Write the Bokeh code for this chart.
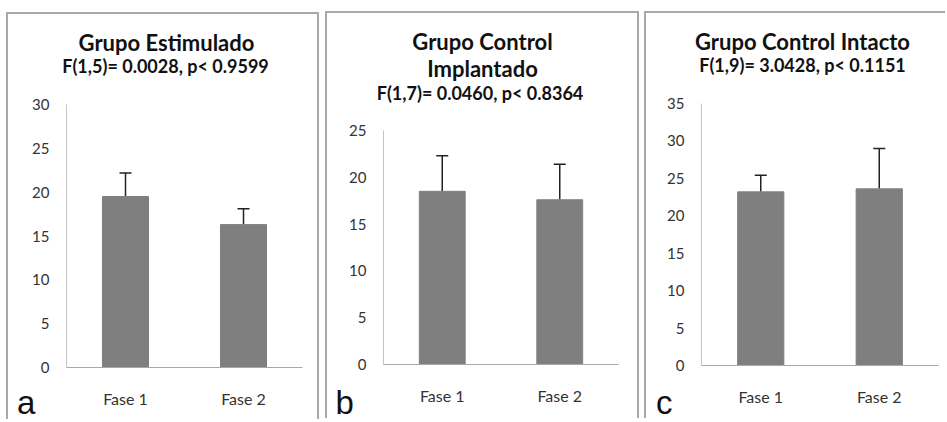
from bokeh.plotting import figure
from bokeh.models import ColumnDataSource, Whisker, TeeHead, Label, Range1d
from bokeh.embed import file_html
from bokeh.resources import INLINE

# ---------------- data ----------------
categories = ["Fase 1", "Fase 2"]

titles_a = ["Grupo Estimulado"]
stats_a = "F(1,5)= 0.0028, p< 0.9599"
means_a = [19.5, 16.3]
errors_a = [2.7, 1.8]
ticks_a = [0, 5, 10, 15, 20, 25, 30]

titles_b = ["Grupo Control", "Implantado"]
stats_b = "F(1,7)= 0.0460, p< 0.8364"
means_b = [18.5, 17.6]
errors_b = [3.8, 3.8]
ticks_b = [0, 5, 10, 15, 20, 25]

titles_c = ["Grupo Control Intacto"]
stats_c = "F(1,9)= 3.0428, p< 0.1151"
means_c = [23.2, 23.6]
errors_c = [2.2, 5.4]
ticks_c = [0, 5, 10, 15, 20, 25, 30, 35]

panel_letters = ["a", "b", "c"]

# ---------------- style / layout ----------------
FONT = "Lato"
BAR = "#7f7f7f"
BORDER = "2px solid #a9a9a9"
TITLE_PX = 22
STATS_PX = 18
LETTER_PX = 33
SHIFT = 0.41   # empirical baseline correction (fraction of font size)
PAGE_H = 422


def chart(means, errors, ticks, L):
    p = figure(x_range=categories, y_range=Range1d(0, ticks[-1]),
               width=L["w"], height=L["h"], output_backend="svg",
               toolbar_location=None,
               min_border_left=L["mb"][0], min_border_right=L["mb"][1],
               min_border_top=L["mb"][2], min_border_bottom=L["mb"][3],
               background_fill_color="white", border_fill_color="white",
               outline_line_color=None)
    st = {"position": "absolute", "left": f"{L['left'] - 2}px",
          "top": f"{L['top'] - 2}px", "border-left": BORDER,
          "border-top": BORDER, "z-index": "1"}
    if L["right_border"]:
        st["border-right"] = BORDER
    p.styles = st

    upper = [m + e for m, e in zip(means, errors)]
    src = ColumnDataSource(dict(cat=categories, mean=means, upper=upper))
    p.vbar(x="cat", top="mean", width=0.39, source=src,
           fill_color=BAR, line_color=BAR)
    p.add_layout(Whisker(base="cat", upper="upper", lower="mean", source=src,
                         line_color="#222222", line_width=1.5,
                         upper_head=TeeHead(size=12, line_color="#222222",
                                            line_width=1.5),
                         lower_head=None))

    p.xgrid.visible = False
    p.ygrid.visible = False
    p.yaxis.ticker = ticks
    for ax in (p.xaxis[0], p.yaxis[0]):
        ax.major_tick_line_color = None
        ax.minor_tick_line_color = None
        ax.major_tick_out = 0
        ax.major_tick_in = 0
        ax.major_label_text_font = FONT
        ax.major_label_text_color = "#333333"
    p.yaxis.axis_line_color = "#c4c4c4"
    p.yaxis.major_label_text_font_size = "15px"
    p.yaxis.major_label_standoff = 17
    p.xaxis.axis_line_color = "#a8a8a8"
    p.xaxis.major_label_text_font_size = "16px"
    p.xaxis.major_label_standoff = 21
    return p


def texts(titles, stats, letter, L):
    # transparent text layer covering the panel, in pixel units (y downwards)
    w, h = L["w"], PAGE_H - L["top"]
    t = figure(x_range=Range1d(0, w), y_range=Range1d(h, 0), width=w, height=h,
               output_backend="svg", toolbar_location=None, min_border=0,
               x_axis_location=None, y_axis_location=None,
               background_fill_color=None, border_fill_color=None,
               outline_line_color=None)
    t.xgrid.visible = False
    t.ygrid.visible = False
    t.styles = {"position": "absolute", "left": f"{L['left']}px",
                "top": f"{L['top']}px", "z-index": "2",
                "pointer-events": "none"}

    def put(txt, x, base, size, font, bold, align):
        t.add_layout(Label(x=x, y=base - L["top"] - SHIFT * size, text=txt,
                           text_align=align, text_baseline="alphabetic",
                           text_font=font,
                           text_font_style="bold" if bold else "normal",
                           text_font_size=f"{size}px", text_color="#111111"))

    for txt, (x, base) in zip(titles, L["title_pos"]):
        put(txt, x, base, TITLE_PX, FONT, True, "center")
    x, base = L["stats_pos"]
    put(stats, x, base, STATS_PX, FONT, True, "center")
    x, base = L["letter_pos"]
    put(letter, x, base, LETTER_PX, "Liberation Sans", False, "left")
    return t


# positions: x relative to panel, baselines in page pixels
lay_a = dict(left=8, top=14, w=313, h=407, mb=(58, 19, 90, 54), right_border=True,
             title_pos=[(158, 51)], stats_pos=(157, 73), letter_pos=(8.5, 416))
lay_b = dict(left=327, top=13, w=314, h=407, mb=(56, 23, 117, 56), right_border=True,
             title_pos=[(155, 50.5), (155, 77.5)], stats_pos=(152.5, 100),
             letter_pos=(8, 416))
lay_c = dict(left=646, top=13, w=301, h=407, mb=(55, 9, 90, 55), right_border=False,
             title_pos=[(156, 50)], stats_pos=(156, 72), letter_pos=(9.5, 416))

ca = chart(means_a, errors_a, ticks_a, lay_a)
cb = chart(means_b, errors_b, ticks_b, lay_b)
cc = chart(means_c, errors_c, ticks_c, lay_c)
ta = texts(titles_a, stats_a, panel_letters[0], lay_a)
tb = texts(titles_b, stats_b, panel_letters[1], lay_b)
tc = texts(titles_c, stats_c, panel_letters[2], lay_c)

open("out.html", "w").write(file_html([ca, cb, cc, ta, tb, tc], INLINE))
